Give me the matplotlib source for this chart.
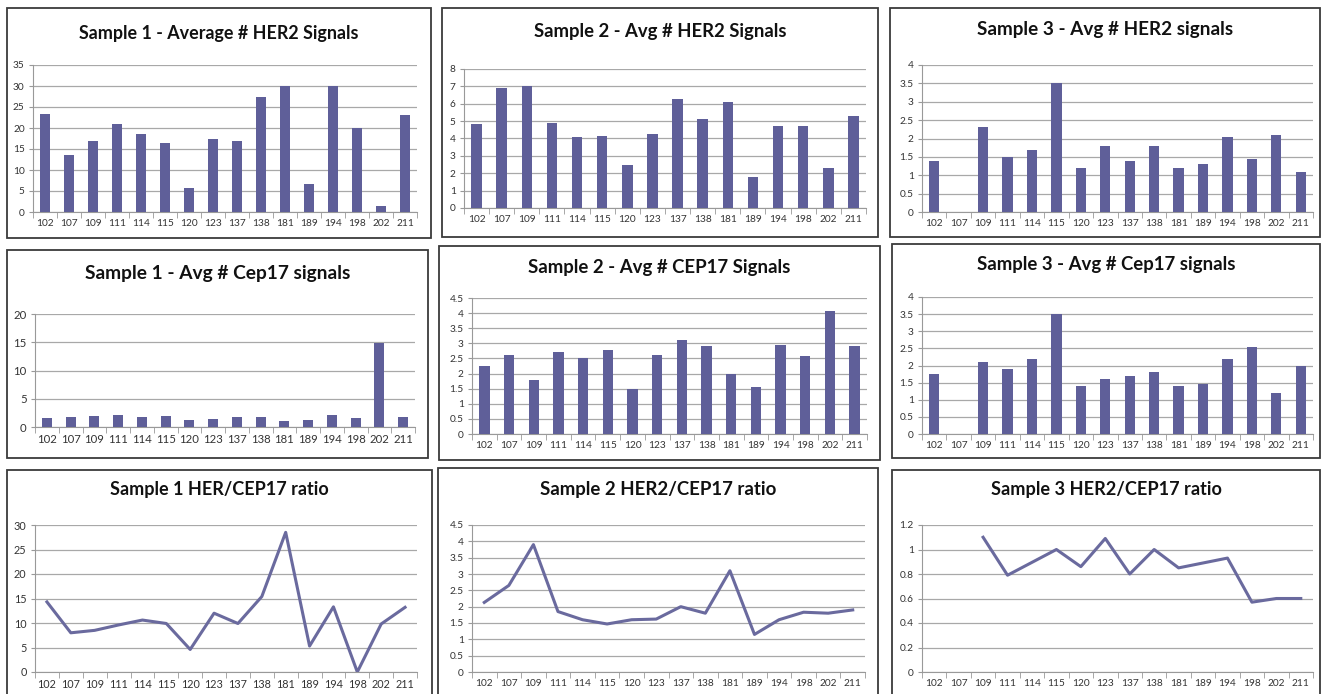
import numpy as np
import matplotlib
matplotlib.use("Agg")
import matplotlib.pyplot as plt
from matplotlib.patches import Rectangle

plt.rcParams['font.family'] = ['Lato', 'DejaVu Sans']

# patient / case ids along the x axis
cases = ['102', '107', '109', '111', '114', '115', '120', '123',
         '137', '138', '181', '189', '194', '198', '202', '211']

nan = np.nan
s1_her2 = [23.4, 13.6, 17.0, 21.0, 18.6, 16.5, 5.7, 17.4, 17.0, 27.4, 30.0, 6.6, 30.0, 20.0, 1.4, 23.2]
s2_her2 = [4.85, 6.9, 7.0, 4.9, 4.1, 4.12, 2.45, 4.27, 6.27, 5.1, 6.08, 1.8, 4.72, 4.72, 2.28, 5.3]
s3_her2 = [1.4, nan, 2.3, 1.5, 1.7, 3.5, 1.2, 1.8, 1.4, 1.8, 1.2, 1.3, 2.03, 1.43, 2.1, 1.1]

s1_cep17 = [1.6, 1.7, 1.9, 2.1, 1.8, 1.9, 1.2, 1.5, 1.7, 1.8, 1.0, 1.2, 2.2, 1.6, 14.8, 1.8]
s2_cep17 = [2.25, 2.6, 1.8, 2.7, 2.5, 2.78, 1.5, 2.6, 3.1, 2.9, 2.0, 1.55, 2.96, 2.58, 4.07, 2.9]
s3_cep17 = [1.75, nan, 2.1, 1.9, 2.2, 3.5, 1.4, 1.6, 1.7, 1.8, 1.4, 1.46, 2.2, 2.54, 1.2, 2.0]

s1_ratio = [14.3, 8.0, 8.5, 9.6, 10.6, 9.9, 4.6, 12.0, 9.9, 15.4, 28.5, 5.3, 13.3, 0.0, 9.8, 13.2]
s2_ratio = [2.13, 2.65, 3.9, 1.85, 1.6, 1.47, 1.6, 1.62, 2.0, 1.8, 3.1, 1.15, 1.6, 1.83, 1.8, 1.9]
s3_ratio = [nan, nan, 1.1, 0.79, 0.895, 1.0, 0.86, 1.09, 0.8, 1.0, 0.85, 0.89, 0.93, 0.57, 0.6, 0.6]

BAR = '#5f5f99'
LINE = '#6a6a9e'
GRID = '#a8a8a8'
W, H = 1326, 694

fig = plt.figure(figsize=(W / 100, H / 100), dpi=100)


def px_axes(x0, y0, x1, y1):
    return fig.add_axes([x0 / W, 1 - y1 / H, (x1 - x0) / W, (y1 - y0) / H])


def box(x0, y0, x1, y1):
    fig.add_artist(Rectangle((x0 / W, 1 - y1 / H), (x1 - x0) / W, (y1 - y0) / H,
                             transform=fig.transFigure, fill=False,
                             edgecolor='#3a3a3a', lw=1.3))


def panel(frame, axbox, title, values, ymax, ystep, kind, title_y,
          title_size=13.2, tick_size=7.3):
    box(*frame)
    ax = px_axes(*axbox)
    x = np.arange(len(cases))
    if kind == 'bar':
        ax.bar(x, values, width=0.42, color=BAR, zorder=3)
    else:
        ax.plot(x, values, color=LINE, lw=2.2, zorder=3)
    ax.set_xlim(-0.5, len(cases) - 0.5)
    ax.set_ylim(0, ymax)
    ticks = np.arange(0, ymax + ystep / 2, ystep)
    ax.set_yticks(ticks)
    ax.set_yticklabels(['{:g}'.format(round(t, 2)) for t in ticks])
    ax.set_xticks(x)
    ax.set_xticklabels(cases)
    ax.set_xticks(np.arange(-0.5, len(cases)), minor=True)
    ax.tick_params(axis='x', which='major', length=0, pad=5, labelsize=tick_size, labelcolor='#333333')
    ax.tick_params(axis='x', which='minor', length=4, color='#999999', direction='out')
    ax.tick_params(axis='y', length=3, color='#999999', labelsize=tick_size, labelcolor='#333333', pad=3)
    ax.grid(axis='y', color=GRID, lw=0.9, zorder=0)
    for s in ('top', 'right'):
        ax.spines[s].set_visible(False)
    for s in ('left', 'bottom'):
        ax.spines[s].set_color('#999999')
    fig.text((frame[0] + frame[2]) / 2 / W, 1 - title_y / H, title,
             ha='center', va='center', fontsize=title_size, fontweight='bold', color='#111111')
    return ax


# row 1
panel((7, 8, 431, 238), (33, 65, 417, 212), 'Sample 1 - Average # HER2 Signals',
      s1_her2, 35, 5, 'bar', 33, title_size=12.9)
panel((442, 8, 878, 237), (464, 69, 866, 208), 'Sample 2 - Avg # HER2 Signals',
      s2_her2, 8, 1, 'bar', 31, title_size=13.3)
panel((890, 8, 1320, 237), (922, 65, 1313, 212), 'Sample 3 - Avg # HER2 signals',
      s3_her2, 4, 0.5, 'bar', 30, title_size=13.6)

# row 2
panel((7, 250, 428, 458), (35, 314, 415, 427), 'Sample 1 - Avg # Cep17 signals',
      s1_cep17, 20, 5, 'bar', 273, title_size=13.8, tick_size=8.2)
panel((439, 246, 880, 460), (472, 298, 867, 434), 'Sample 2 - Avg # CEP17 Signals',
      s2_cep17, 4.5, 0.5, 'bar', 267, title_size=13.4)
panel((892, 244, 1320, 458), (922, 297, 1313, 434), 'Sample 3 - Avg # Cep17 signals',
      s3_cep17, 4, 0.5, 'bar', 265, title_size=13.4)

# row 3 (frames run past the bottom of the image)
panel((7, 470, 432, 700), (35, 525, 417, 672), 'Sample 1 HER/CEP17 ratio',
      s1_ratio, 30, 5, 'line', 490, title_size=13.0, tick_size=7.8)
panel((438, 468, 878, 700), (472, 525, 865, 672), 'Sample 2 HER2/CEP17 ratio',
      s2_ratio, 4.5, 0.5, 'line', 490, title_size=13.4)
panel((892, 470, 1320, 700), (922, 525, 1313, 672), 'Sample 3 HER2/CEP17 ratio',
      s3_ratio, 1.2, 0.2, 'line', 490, title_size=13.1)

fig.savefig('out.png', dpi=100)
